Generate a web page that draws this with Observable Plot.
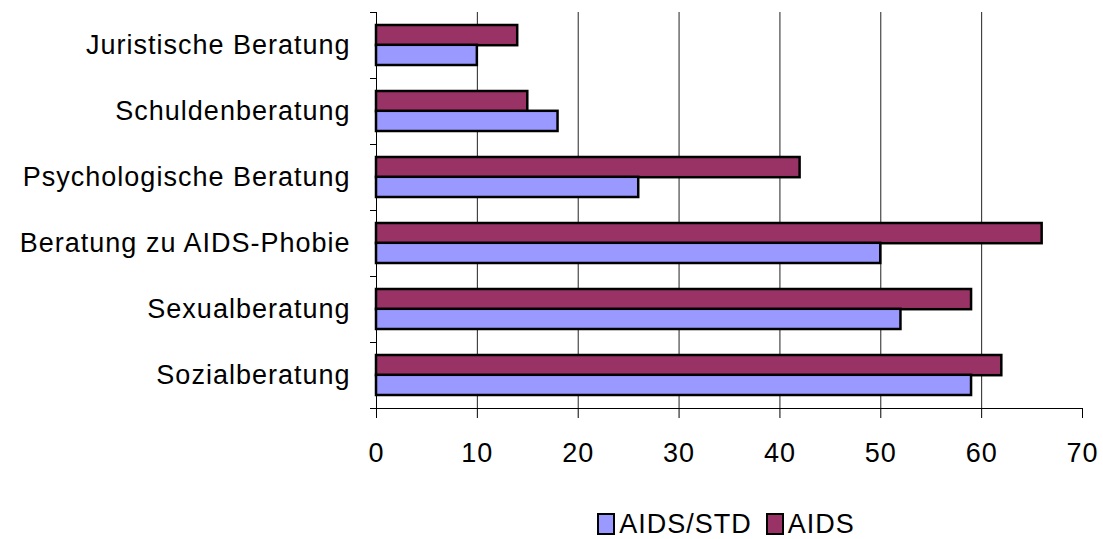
<!DOCTYPE html>
<html>
<head>
<meta charset="utf-8">
<script src="https://cdn.jsdelivr.net/npm/d3@7"></script>
<script src="https://cdn.jsdelivr.net/npm/@observablehq/plot@0.6"></script>
<style>
  html, body { margin: 0; padding: 0; background: #fff; overflow: hidden; }
  body { font-family: "Liberation Sans", Arial, sans-serif; width: 1103px; }
  #chart svg { display: block; letter-spacing: 1px; }
  #legend { display: flex; justify-content: center; align-items: center; margin-left: 370px; margin-right: 21px; height: 26px; font-size: 27px; line-height: 26px; color: #000; letter-spacing: 1px; }
  .item { display: flex; align-items: center; margin: 0 7px; }
  .sw { width: 14px; height: 18px; border: 2px solid #000; margin-right: 4px; }
</style>
</head>
<body>
<div id="chart"></div>
<div id="legend"></div>
<script>
const categories = ["Juristische Beratung", "Schuldenberatung", "Psychologische Beratung", "Beratung zu AIDS-Phobie", "Sexualberatung", "Sozialberatung"];
const aidsStd = [10, 18, 26, 50, 52, 59];
const aids = [14, 15, 42, 66, 59, 62];
const xTicks = [0, 10, 20, 30, 40, 50, 60, 70];
const gridTicks = [10, 20, 30, 40, 50, 60];
const seriesNames = ["AIDS/STD", "AIDS"];
const seriesColors = ["#9999FF", "#993366"];

const rows = categories.map((c, i) => ({cat: c, aidsStd: aidsStd[i], aids: aids[i]}));

const H = 511, mTop = 12, mBottom = 103;
const step = (H - mTop - mBottom) / categories.length;
const half = step * 0.6 / 2;

const plot = Plot.plot({
  width: 1103,
  height: H,
  marginTop: mTop,
  marginBottom: mBottom,
  marginLeft: 376,
  marginRight: 21,
  style: {fontFamily: "'Liberation Sans', Arial, sans-serif", fontSize: "26px", color: "#000", background: "#fff"},
  x: {domain: [0, 70], label: null},
  y: {domain: categories, paddingInner: 0.4, paddingOuter: 0.2, label: null},
  marks: [
    Plot.ruleX(gridTicks, {stroke: "#222", strokeWidth: 1}),
    Plot.barX(rows, {x: "aids", y: "cat", fill: seriesColors[1], stroke: "#000", strokeWidth: 2.5, insetBottom: half}),
    Plot.barX(rows, {x: "aidsStd", y: "cat", fill: seriesColors[0], stroke: "#000", strokeWidth: 2.5, insetTop: half}),
    Plot.ruleX([0], {stroke: "#000", strokeWidth: 1}),
    Plot.frame({anchor: "bottom", stroke: "#000", strokeWidth: 1}),
    Plot.axisX({ticks: xTicks, tickSize: 10, tickPadding: 24, fontSize: 27, stroke: "#000", strokeWidth: 1}),
    Plot.axisY({tickSize: 0, tickPadding: 26, fontSize: 27}),
    Plot.axisY({tickSize: 6, tickFormat: () => "", dy: -step / 2, strokeWidth: 1}),
    Plot.axisY({tickSize: 6, tickFormat: () => "", dy: step / 2, strokeWidth: 1})
  ]
});
document.getElementById("chart").appendChild(plot);

const legend = document.getElementById("legend");
seriesNames.forEach((n, i) => {
  const it = document.createElement("div");
  it.className = "item";
  const sw = document.createElement("div");
  sw.className = "sw";
  sw.style.background = seriesColors[i];
  const t = document.createElement("span");
  t.textContent = n;
  it.appendChild(sw);
  it.appendChild(t);
  legend.appendChild(it);
});
</script>
</body>
</html>
